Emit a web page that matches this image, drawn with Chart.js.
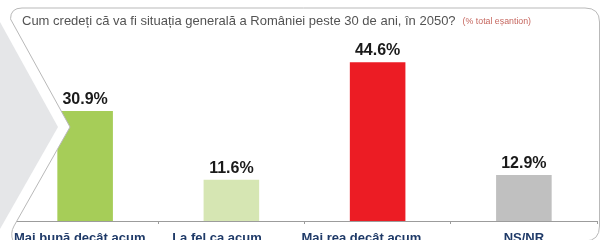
<!DOCTYPE html>
<html>
<head>
<meta charset="utf-8">
<script src="https://cdn.jsdelivr.net/npm/chart.js@4/dist/chart.umd.min.js"></script>
<style>
  html, body { margin: 0; padding: 0; background: #fff; }
  #wrap { width: 609px; height: 240px; }
</style>
</head>
<body>
<div id="wrap"><canvas id="chart" width="609" height="240"></canvas></div>
<script>
// data
const categories = ['Mai bună decât acum', 'La fel ca acum', 'Mai rea decât acum', 'NS/NR'];
const values = [30.9, 11.6, 44.6, 12.9];
const barColors = ['#a6cd58', '#d6e6b3', '#ec1c24', '#c0c0c0'];
const titleText = 'Cum credeți că va fi situația generală a României peste 30 de ani, în 2050?';
const noteText = '(% total eșantion)';

// the labels in the picture sit a bit left of their bars; pad with trailing spaces
const labelPad = [3, 8, 9, 0];

// panel, chevron and title drawn around the chart
const framePlugin = {
    id: 'frame',
    beforeDraw(chart) {
        const ctx = chart.ctx;
        ctx.save();
        ctx.fillStyle = '#fff';
        ctx.fillRect(0, 0, chart.width, chart.height);
        // rounded panel outline (top and right side)
        ctx.strokeStyle = '#b9b9b9';
        ctx.lineWidth = 1;
        ctx.beginPath();
        ctx.moveTo(10.5, 19);
        ctx.quadraticCurveTo(10.5, 8, 22, 8);
        ctx.lineTo(585, 8);
        ctx.quadraticCurveTo(599.5, 8, 599.5, 22);
        ctx.lineTo(599.5, 226);
        ctx.quadraticCurveTo(599.5, 241, 585, 241);
        ctx.stroke();
        // title
        ctx.textAlign = 'left';
        ctx.textBaseline = 'alphabetic';
        ctx.font = '13px "Liberation Sans", Arial, sans-serif';
        ctx.fillStyle = '#535353';
        ctx.fillText(titleText, 22, 25);
        const w = ctx.measureText(titleText).width;
        ctx.font = '8.8px "Liberation Sans", Arial, sans-serif';
        ctx.fillStyle = '#c6675f';
        ctx.fillText(noteText, 22 + w + 7, 24);
        ctx.restore();
    },
    afterDatasetsDraw(chart) {
        const ctx = chart.ctx;
        ctx.save();
        // white band left of the panel edge
        ctx.fillStyle = '#fff';
        ctx.beginPath();
        ctx.moveTo(0, 0);
        ctx.lineTo(10.5, 19);
        ctx.lineTo(70, 127);
        ctx.lineTo(14, 226);
        ctx.lineTo(0, 240);
        ctx.closePath();
        ctx.fill();
        // gray chevron
        ctx.fillStyle = '#e5e6e8';
        ctx.beginPath();
        ctx.moveTo(0, 22);
        ctx.lineTo(58, 127);
        ctx.lineTo(0, 229);
        ctx.closePath();
        ctx.fill();
        // thin panel edge
        ctx.strokeStyle = '#b9b9b9';
        ctx.lineWidth = 1;
        ctx.beginPath();
        ctx.moveTo(10.5, 19);
        ctx.lineTo(70, 127);
        ctx.lineTo(14, 226);
        ctx.quadraticCurveTo(10, 233, 13, 241);
        ctx.stroke();
        // value labels
        const meta = chart.getDatasetMeta(0);
        ctx.font = 'bold 16px "Liberation Sans", Arial, sans-serif';
        ctx.fillStyle = '#1a1a1a';
        ctx.textAlign = 'center';
        ctx.textBaseline = 'alphabetic';
        meta.data.forEach((bar, i) => {
            ctx.fillText(values[i].toFixed(1) + '%', bar.x, bar.y - 7);
        });
        ctx.restore();
    }
};

new Chart(document.getElementById('chart').getContext('2d'), {
    type: 'bar',
    data: {
        labels: categories,
        datasets: [{
            data: values,
            backgroundColor: barColors,
            borderWidth: 0,
            categoryPercentage: 1,
            barPercentage: 0.38
        }]
    },
    options: {
        responsive: false,
        animation: false,
        events: [],
        layout: { padding: { left: 12, right: 12, top: 43, bottom: 0 } },
        plugins: {
            legend: { display: false },
            tooltip: { enabled: false }
        },
        scales: {
            y: { display: false, min: 0, max: 50 },
            x: {
                afterFit(scale) { scale.height = 19; },
                border: { display: true, color: '#9c9c9c', width: 1 },
                grid: {
                    offset: true,
                    drawOnChartArea: false,
                    drawTicks: true,
                    tickLength: 3,
                    color: '#9c9c9c'
                },
                ticks: {
                    padding: 7,
                    maxRotation: 0,
                    autoSkip: false,
                    color: '#1f3a68',
                    font: { family: '"Liberation Sans", Arial, sans-serif', size: 13, weight: 'bold' },
                    callback(value, i) {
                        return categories[i] + '\u00a0'.repeat(labelPad[i]);
                    }
                }
            }
        }
    },
    plugins: [framePlugin]
});
</script>
</body>
</html>
